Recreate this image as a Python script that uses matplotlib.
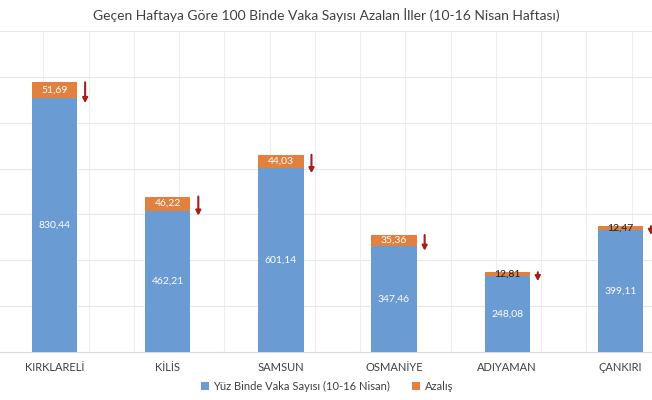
import matplotlib
matplotlib.use("Agg")
import matplotlib.pyplot as plt
import numpy as np

plt.rcParams['font.family'] = ['Lato', 'DejaVu Sans']

provinces = ["KIRKLARELİ", "KİLİS", "SAMSUN", "OSMANİYE", "ADIYAMAN", "ÇANKIRI"]
cases = [830.44, 462.21, 601.14, 347.46, 248.08, 399.11]
decrease = [51.69, 46.22, 44.03, 35.36, 12.81, 12.47]
case_labels = ["830,44", "462,21", "601,14", "347,46", "248,08", "399,11"]
dec_labels = ["51,69", "46,22", "44,03", "35,36", "12,81", "12,47"]

blue = "#6A9BD3"
orange = "#E2813F"
arrow_c = "#A3201E"

fig = plt.figure(figsize=(6.52, 4.0), dpi=100)
ax = fig.add_axes([-2/652, 1-352/400, 679/652, (352-31)/400])

x = np.arange(len(provinces))
w = 0.4
ax.bar(x, cases, w, color=blue, label="Yüz Binde Vaka Sayısı (10-16 Nisan)", zorder=3)
ax.bar(x, decrease, w, bottom=cases, color=orange, label="Azalış", zorder=3)

for i in range(len(x)):
    ax.text(x[i], cases[i]/2, case_labels[i], ha='center', va='center',
            color='white', fontsize=7.5, zorder=4)
    small = decrease[i] < 20
    ax.text(x[i], cases[i] + decrease[i]/2, dec_labels[i], ha='center', va='center',
            color='#1a1a1a' if small else 'white', fontsize=7.5, zorder=4)
    top = cases[i] + decrease[i]
    ax.annotate("", xy=(x[i] + 0.27, top - decrease[i] - 16), xytext=(x[i] + 0.27, top),
                arrowprops=dict(arrowstyle="-|>,head_width=0.15,head_length=0.28",
                                color=arrow_c, lw=1.5, shrinkA=0, shrinkB=0), zorder=5)

ax.set_xlim(-0.5, 5.5)
ax.set_ylim(0, 1050)
ax.set_yticks(np.arange(0, 1051, 150))
ax.set_xticks(x)
ax.set_xticklabels(provinces, fontsize=8, color='#404040')
ax.set_xticks(np.arange(-0.5, 5.6, 0.4), minor=True)
ax.tick_params(axis='x', which='both', length=0, pad=7)
ax.tick_params(axis='y', length=0, labelleft=False)
ax.grid(axis='y', color='#E8E8E8', lw=0.8, zorder=0)
ax.grid(axis='x', which='minor', color='#EEEEEE', lw=0.8, zorder=0)
ax.grid(axis='x', which='major', visible=False)
for s in ['top', 'right', 'left']:
    ax.spines[s].set_visible(False)
ax.spines['bottom'].set_color('#D9D9D9')
ax.set_axisbelow(True)

fig.text(326/652, 1-15/400, "Geçen Haftaya Göre 100 Binde Vaka Sayısı Azalan İller (10-16 Nisan Haftası)",
         ha='center', va='center', fontsize=10, color='#404040')

leg = fig.legend(loc='center', bbox_to_anchor=(327/652, 1-386/400), ncol=2, frameon=False,
                 fontsize=8, handlelength=0.7, handleheight=0.7, columnspacing=2.0,
                 handletextpad=0.4)
for t in leg.get_texts():
    t.set_color('#404040')

fig.savefig("out.png", dpi=100)
